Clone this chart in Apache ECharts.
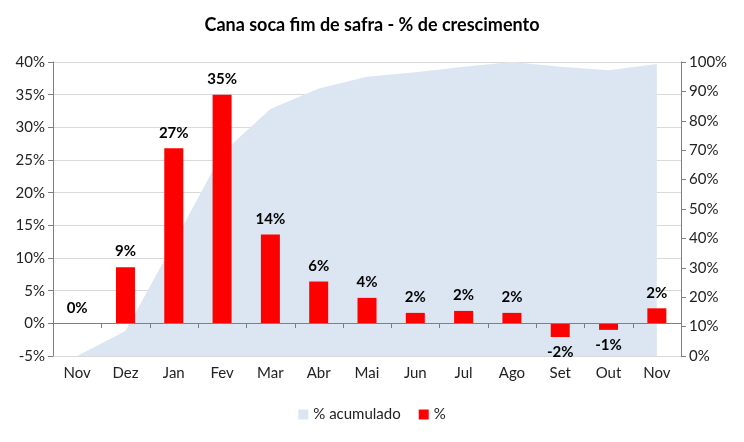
<!DOCTYPE html>
<html><head><meta charset="utf-8">
<script src="https://cdn.jsdelivr.net/npm/echarts@6/dist/echarts.min.js"></script>
<style>html,body{margin:0;padding:0;background:#fff}#c{width:744px;height:442px}</style>
</head><body><div id="c"></div>
<script>
const categories = ['Nov','Dez','Jan','Fev','Mar','Abr','Mai','Jun','Jul','Ago','Set','Out','Nov'];
const growth = [0, 8.6, 26.8, 35.0, 13.6, 6.4, 3.9, 1.6, 1.9, 1.6, -2.1, -1.0, 2.3];
const cumulative = [0, 8.5, 38.4, 69, 84, 91, 95, 96.5, 98.4, 100, 98.4, 97.2, 99.3];
const leftTicks = {min: -5, max: 40, interval: 5};
const rightTicks = {min: 0, max: 100, interval: 10};

const font = 'Lato, "Open Sans", sans-serif';
const axisGray = '#7f7f7f';
const chart = echarts.init(document.getElementById('c'), null, {renderer: 'canvas'});
chart.setOption({
  animation: false,
  textStyle: {fontFamily: font},
  title: {text: 'Cana soca fim de safra - % de crescimento', left: 'center', top: 11,
    textStyle: {fontFamily: font, fontSize: 18, fontWeight: 'bold', color: '#000'}},
  legend: {bottom: 15, left: 'center', itemWidth: 10, itemHeight: 10, itemGap: 18,
    icon: 'rect', textStyle: {fontFamily: font, fontSize: 15, color: '#222'},
    data: ['% acumulado', '%']},
  grid: {left: 53, right: 63, top: 62, bottom: 86},
  xAxis: [
    {type: 'category', data: categories, position: 'bottom', boundaryGap: true,
      axisLine: {show: false, onZero: false}, axisTick: {show: false},
      axisLabel: {fontFamily: font, fontSize: 15, color: '#222', margin: 10}}
  ],
  yAxis: [
    {type: 'value', min: leftTicks.min, max: leftTicks.max, interval: leftTicks.interval,
      axisLine: {show: true, lineStyle: {color: axisGray}},
      axisTick: {show: true, length: 5, lineStyle: {color: axisGray}},
      axisLabel: {formatter: v => v + '%', fontFamily: font, fontSize: 15, color: '#222', margin: 8},
      splitLine: {show: true, lineStyle: {color: '#d9d9d9'}}},
    {type: 'value', min: rightTicks.min, max: rightTicks.max, interval: rightTicks.interval, z: 10,
      position: 'right',
      axisLine: {show: true, lineStyle: {color: axisGray}},
      axisTick: {show: true, length: 5, lineStyle: {color: axisGray}},
      axisLabel: {formatter: v => v + '%', fontFamily: font, fontSize: 15, color: '#222', margin: 8},
      splitLine: {show: false}}
  ],
  series: [
    {name: '% acumulado', type: 'line', xAxisIndex: 0, yAxisIndex: 1, data: cumulative,
      symbol: 'none', lineStyle: {width: 0, color: '#dce6f2'}, itemStyle: {color: '#dce6f2'},
      areaStyle: {color: '#dce6f2', opacity: 1}, z: 1},
    {name: '%', type: 'bar', xAxisIndex: 0, yAxisIndex: 0, barWidth: 19, z: 3,
      itemStyle: {color: '#ff0000'},
      data: growth.map(v => ({value: v, label: {position: v < 0 ? 'bottom' : 'top'}})),
      label: {show: true, distance: 8, fontFamily: font, fontSize: 15, fontWeight: 'bold', color: '#000',
        formatter: p => Math.round(p.value) + '%'},
      markLine: {silent: true, symbol: 'none', z: 12, label: {show: false},
        lineStyle: {color: axisGray, width: 1, type: 'solid'},
        data: [{yAxis: 0}]}},
    {name: 'zero', type: 'custom', xAxisIndex: 0, yAxisIndex: 0, z: 10, silent: true, clip: false,
      data: categories.map((c, i) => [i, 0]),
      renderItem: function (params, api) {
        const p = api.coord([api.value(0), 0]);
        const half = api.size([1, 0])[0] / 2;
        const x1 = Math.round(p[0] + half) + 0.5;
        const y = Math.round(p[1]);
        if (api.value(0) >= categories.length - 1) return null;
        return {type: 'line', shape: {x1: x1, y1: y, x2: x1, y2: y + 5},
          style: {stroke: axisGray, lineWidth: 1}};
      }}
  ]
});
</script></body></html>
